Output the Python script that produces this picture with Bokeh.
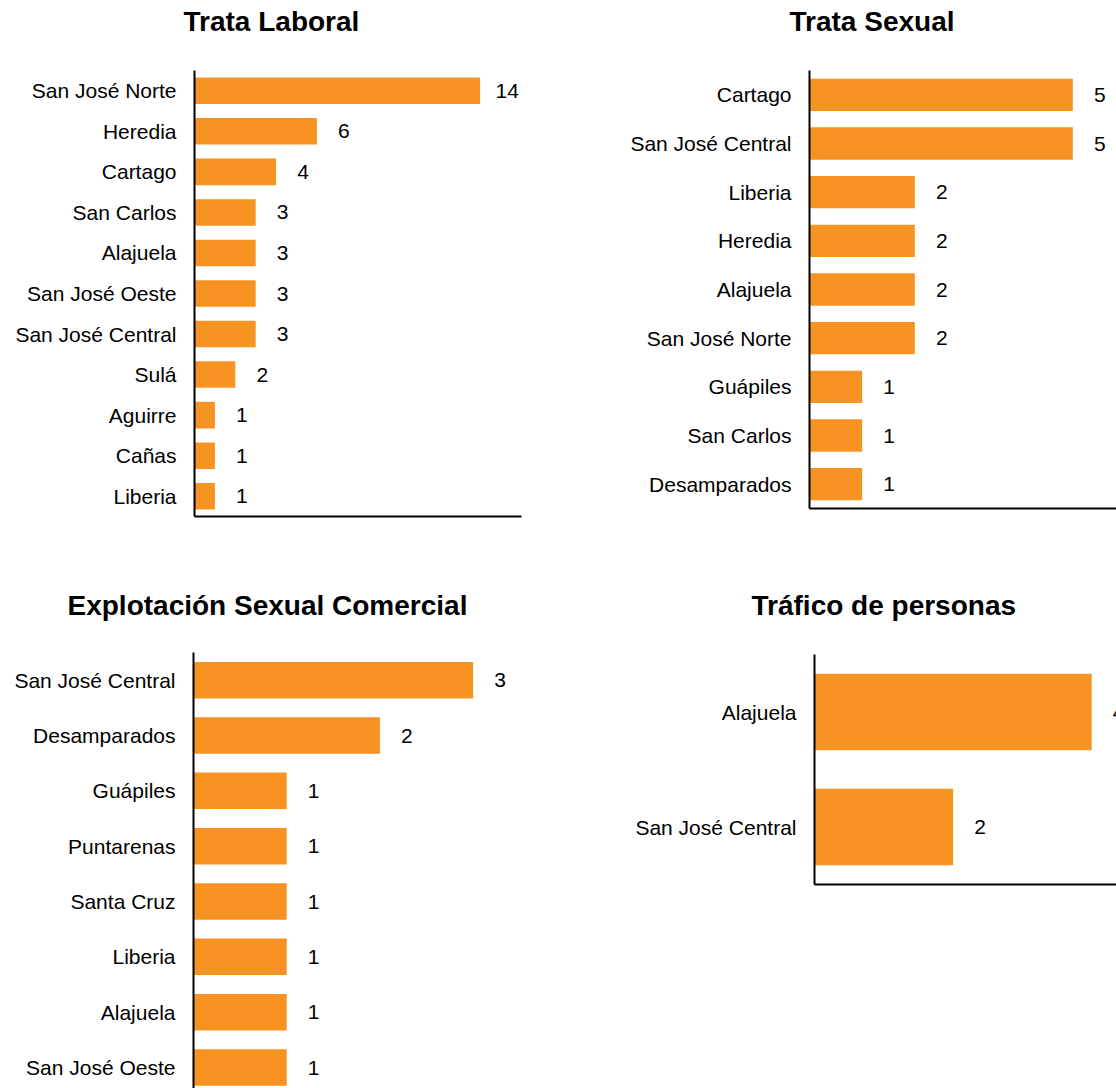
from bokeh.plotting import figure
from bokeh.models import Range1d, FixedTicker, Title
from bokeh.layouts import column, row
from bokeh.embed import file_html
from bokeh.resources import INLINE
from bokeh.core.properties import value

# ---------------- data ----------------
titles = ["Trata Laboral", "Trata Sexual", "Explotación Sexual Comercial", "Tráfico de personas"]

laboral_cats = ["San José Norte", "Heredia", "Cartago", "San Carlos", "Alajuela",
                "San José Oeste", "San José Central", "Sulá", "Aguirre", "Cañas", "Liberia"]
laboral_vals = [14, 6, 4, 3, 3, 3, 3, 2, 1, 1, 1]

sexual_cats = ["Cartago", "San José Central", "Liberia", "Heredia", "Alajuela",
               "San José Norte", "Guápiles", "San Carlos", "Desamparados"]
sexual_vals = [5, 5, 2, 2, 2, 2, 1, 1, 1]

esc_cats = ["San José Central", "Desamparados", "Guápiles", "Puntarenas", "Santa Cruz",
            "Liberia", "Alajuela", "San José Oeste"]
esc_vals = [3, 2, 1, 1, 1, 1, 1, 1]

trafico_cats = ["Alajuela", "San José Central"]
trafico_vals = [4, 2]

# ---------------- style ----------------
BAR = "#F69322"
FONT = "Liberation Sans"
LABEL_SIZE = "21px"
TITLE_SIZE = "28px"


def style_axes(p, show_x=True, x_bounds=None):
    p.outline_line_color = None
    p.xgrid.grid_line_color = None
    p.ygrid.grid_line_color = None
    p.background_fill_color = "white"
    p.border_fill_color = "white"
    for ax in p.yaxis:
        ax.axis_line_color = "black"
        ax.axis_line_width = 2
        ax.major_tick_line_color = None
        ax.minor_tick_line_color = None
        ax.major_tick_out = 0
        ax.major_tick_in = 0
        ax.major_label_standoff = 18
        ax.major_label_text_font = FONT
        ax.major_label_text_font_size = LABEL_SIZE
        ax.major_label_text_color = "black"
    for ax in p.xaxis:
        if not show_x:
            ax.visible = False
            continue
        ax.ticker = FixedTicker(ticks=[])
        ax.axis_line_color = "black"
        ax.axis_line_width = 2
        ax.major_tick_line_color = None
        ax.minor_tick_line_color = None
        ax.major_label_text_font_size = "0px"
        if x_bounds is not None:
            ax.bounds = x_bounds


def panel(title, cats, vals, width, height, mb_left, mb_right, mb_top, mb_bottom,
          x_end, y_end, bar_h, title_offset, title_gap, x_bounds=None, show_x=True):
    ys = list(range(len(cats)))
    p = figure(width=width, height=height, x_range=Range1d(0, x_end),
               y_range=Range1d(y_end, -0.5),
               output_backend="svg", toolbar_location=None,
               min_border_left=mb_left, min_border_right=mb_right,
               min_border_top=mb_top, min_border_bottom=mb_bottom)
    p.frame_align = False
    p.hbar(y=ys, right=vals, left=0, height=bar_h, fill_color=BAR, line_color=None)
    p.text(x=vals, y=ys, text=[str(v) for v in vals], x_offset=27,
           text_align="center", text_baseline="middle",
           text_font=value(FONT), text_font_size=value(LABEL_SIZE), text_color="black")
    style_axes(p, show_x=show_x, x_bounds=x_bounds)
    p.yaxis.ticker = FixedTicker(ticks=ys)
    p.yaxis.major_label_overrides = {i: c for i, c in enumerate(cats)}
    p.title.text = title
    p.title.align = "left"
    p.title.offset = title_offset
    p.title.standoff = 6
    p.title.text_font = FONT
    p.title.text_font_size = TITLE_SIZE
    p.title.text_font_style = "bold"
    p.title.text_color = "black"
    # blank spacer between the title and the plot frame
    p.add_layout(Title(text=" ", text_font_size="2px", standoff=title_gap - 2), "above")
    return p


p1 = panel(titles[0], laboral_cats, laboral_vals, 600, 560, 194, 32, 69, 44,
           18.33, 10.5, 0.655, -11, 29, x_bounds=(0, 16.03))
p2 = panel(titles[1], sexual_cats, sexual_vals, 516, 560, 209, 0, 69, 52,
           5.83, 8.5, 0.663, -20, 29)
p3 = panel(titles[2], esc_cats, esc_vals, 600, 528, 193, 0, 92, 0,
           4.367, 7.379, 0.66, -126, 27, show_x=False)
p4 = panel(titles[3], trafico_cats, trafico_vals, 516, 528, 214, 0, 94, 204,
           4.358, 1.5, 0.667, -63, 29)

layout = column(row(p1, p2), row(p3, p4))

open("out.html", "w").write(file_html(layout, INLINE))
